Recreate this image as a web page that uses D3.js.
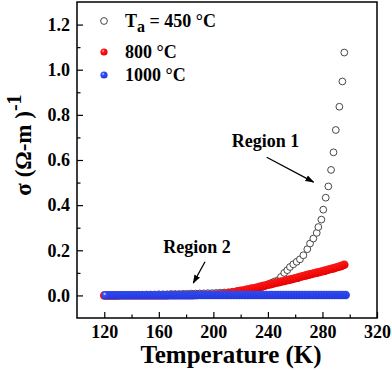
<!DOCTYPE html>
<html>
<head>
<meta charset="utf-8">
<script src="https://cdn.jsdelivr.net/npm/d3@7"></script>
<style>
  body { margin: 0; background: #fff; }
  svg { display: block; }
  text { font-family: "Liberation Serif", "Times New Roman", serif; font-weight: bold; fill: #000; }
  .tick text { font-size: 18px; }
</style>
</head>
<body>
<svg id="chart" width="392" height="370"></svg>
<script>
// annealed at 450 C (open circles)
var t450 = [120, 122, 124, 126, 128, 130, 133, 136, 139, 142, 145, 148, 151, 154, 157, 160, 163, 166, 169, 172,
    175, 178, 181, 184, 187, 190, 193, 196, 199, 202, 205, 208, 211, 214, 217, 220, 223, 226, 229, 232,
    235, 237, 239, 241, 243, 245, 247.6, 249.6, 252, 254.2, 256.2, 258.6, 261.1, 263.5, 266, 268.9, 270.9,
    273.3, 275.8, 277, 279.2, 280.6, 282.4, 284.3, 286.3, 288.1, 289.8, 292.4, 294.6, 296];
var s450 = [0.002, 0.002, 0.002, 0.002, 0.002, 0.002, 0.002, 0.003, 0.003, 0.003, 0.003, 0.003, 0.004, 0.004, 0.004, 0.005, 0.005, 0.005, 0.006, 0.006,
    0.006, 0.007, 0.007, 0.008, 0.008, 0.009, 0.009, 0.010, 0.010, 0.011, 0.012, 0.013, 0.014, 0.016, 0.018, 0.020, 0.022, 0.024, 0.027, 0.031,
    0.036, 0.040, 0.045, 0.051, 0.057, 0.062, 0.068, 0.082, 0.100, 0.112, 0.126, 0.138, 0.149, 0.160, 0.178, 0.205, 0.230,
    0.252, 0.277, 0.303, 0.336, 0.380, 0.433, 0.483, 0.556, 0.634, 0.733, 0.836, 0.948, 1.076];

// 800 C (red)
var t800 = [120, 122, 124, 126, 128, 130, 132, 134, 136, 138, 140, 142, 144, 146, 148, 150, 152, 154, 156, 158,
    160, 162, 164, 166, 168, 170, 172, 174, 176, 178, 180, 182, 184, 186, 188, 190, 192, 194, 196, 198,
    200, 202, 204, 206, 208, 210, 212, 214, 216, 218, 220, 222, 224, 226, 228, 230, 232, 234, 236, 238,
    240, 242, 244, 246, 248, 250, 252, 254, 256, 258, 260, 262, 264, 266, 268, 270, 272, 274, 276, 278,
    280, 282, 284, 286, 288, 290, 292, 294, 296];
var s800 = [0.000, 0.000, 0.000, 0.000, 0.000, 0.000, 0.001, 0.001, 0.001, 0.001, 0.001, 0.001, 0.001, 0.001, 0.001, 0.001, 0.001, 0.001, 0.001, 0.001,
    0.001, 0.001, 0.001, 0.001, 0.002, 0.002, 0.002, 0.002, 0.002, 0.002, 0.002, 0.002, 0.002, 0.002, 0.002, 0.003, 0.003, 0.003, 0.003, 0.003,
    0.003, 0.004, 0.004, 0.005, 0.007, 0.009, 0.011, 0.013, 0.015, 0.018, 0.020, 0.022, 0.025, 0.027, 0.030, 0.032, 0.035, 0.038, 0.041, 0.044,
    0.047, 0.050, 0.053, 0.056, 0.059, 0.062, 0.064, 0.067, 0.070, 0.073, 0.076, 0.079, 0.083, 0.086, 0.089, 0.092, 0.095, 0.098, 0.101, 0.104,
    0.107, 0.110, 0.114, 0.117, 0.120, 0.124, 0.127, 0.131, 0.136];

// 1000 C (blue)
var t1000 = [121, 123, 125, 127, 129, 131, 133, 135, 137, 139, 141, 143, 145, 147, 149, 151, 153, 155, 157, 159,
    161, 163, 165, 167, 169, 171, 173, 175, 177, 179, 181, 183, 185, 187, 189, 191, 193, 195, 197, 199,
    201, 203, 205, 207, 209, 211, 213, 215, 217, 219, 221, 223, 225, 227, 229, 231, 233, 235, 237, 239,
    241, 243, 245, 247, 249, 251, 253, 255, 257, 259, 261, 263, 265, 267, 269, 271, 273, 275, 277, 279,
    281, 283, 285, 287, 289, 291, 293, 295, 297];
var s1000 = [0.001, 0.001, 0.001, 0.001, 0.001, 0.001, 0.001, 0.001, 0.001, 0.001, 0.001, 0.001, 0.001, 0.001, 0.001, 0.001, 0.001, 0.001, 0.001, 0.001,
    0.001, 0.001, 0.001, 0.001, 0.001, 0.001, 0.001, 0.001, 0.001, 0.001, 0.001, 0.001, 0.001, 0.002, 0.002, 0.002, 0.002, 0.002, 0.002, 0.002,
    0.002, 0.002, 0.002, 0.002, 0.002, 0.002, 0.002, 0.002, 0.002, 0.002, 0.002, 0.002, 0.002, 0.002, 0.002, 0.002, 0.002, 0.002, 0.002, 0.002,
    0.002, 0.002, 0.002, 0.002, 0.002, 0.002, 0.002, 0.002, 0.002, 0.002, 0.002, 0.002, 0.002, 0.002, 0.002, 0.002, 0.002, 0.002, 0.002, 0.002,
    0.002, 0.002, 0.002, 0.002, 0.002, 0.002, 0.002, 0.002, 0.002];

var xMajor = [120, 160, 200, 240, 280, 320];
var xMinor = [140, 180, 220, 260, 300];
var yMajor = [0.0, 0.2, 0.4, 0.6, 0.8, 1.0, 1.2];
var yMinor = [0.1, 0.3, 0.5, 0.7, 0.9, 1.1];

var legendLabels = ["= 450 °C", "800 °C", "1000 °C"];

// annotation anchors, data units
var region1 = { text: "Region 1", tx: 213.5, ty: 0.659, from: [239.1, 0.612], to: [273.5, 0.502] };
var region2 = { text: "Region 2", tx: 163.3, ty: 0.186, from: [193.9, 0.149], to: [185.3, 0.055] };

var svg = d3.select("#chart");
var mLeft = 77, mRight = 377, mTop = 2, mBottom = 318;

var x = d3.scaleLinear().domain([100, 320]).range([mLeft, mRight]);
var y = d3.scaleLinear().domain([-0.1, 1.3]).range([mBottom, mTop]);

var defs = svg.append("defs");
function ball(id, hi, base, edge) {
    var g = defs.append("radialGradient").attr("id", id)
        .attr("cx", "38%").attr("cy", "35%").attr("r", "65%");
    g.append("stop").attr("offset", "0%").attr("stop-color", hi);
    g.append("stop").attr("offset", "28%").attr("stop-color", base);
    g.append("stop").attr("offset", "100%").attr("stop-color", edge);
}
ball("redBall", "#ffe6e6", "#ff1c1c", "#e80000");
ball("blueBall", "#eef2ff", "#3452f5", "#2238e0");

defs.append("marker").attr("id", "head")
    .attr("viewBox", "0 0 10 10").attr("refX", 9).attr("refY", 5)
    .attr("markerWidth", 9).attr("markerHeight", 9).attr("markerUnits", "userSpaceOnUse")
    .attr("orient", "auto")
    .append("path").attr("d", "M0,1.5L10,5L0,8.5Z").attr("fill", "#000");

function pairs(ts, vs) {
    return ts.map(function(t, i) { return [t, vs[i]]; });
}

var plot = svg.append("g");

// 450 C, ascending
plot.append("g").selectAll("circle")
    .data(pairs(t450, s450))
    .join("circle")
    .attr("cx", function(d) { return x(d[0]); })
    .attr("cy", function(d) { return y(d[1]); })
    .attr("r", 3.4)
    .attr("fill", "#fff")
    .attr("stroke", "#333")
    .attr("stroke-width", 0.9);

// 800 C and 1000 C drawn high T first so the low end sits on top
plot.append("g").selectAll("circle")
    .data(pairs(t800, s800).reverse())
    .join("circle")
    .attr("cx", function(d) { return x(d[0]); })
    .attr("cy", function(d) { return y(d[1]); })
    .attr("r", 4.3)
    .attr("fill", "url(#redBall)");

plot.append("g").selectAll("circle")
    .data(pairs(t1000, s1000).reverse())
    .join("circle")
    .attr("cx", function(d) { return x(d[0]); })
    .attr("cy", function(d) { return y(d[1]); })
    .attr("r", 4.3)
    .attr("fill", "url(#blueBall)");

// axes, ticks inward
svg.append("g").attr("transform", "translate(0," + mBottom + ")")
    .call(d3.axisBottom(x).tickValues(xMajor).tickSizeInner(-6).tickSizeOuter(0).tickPadding(7));
svg.append("g").attr("class", "minor").attr("transform", "translate(0," + mBottom + ")")
    .call(d3.axisBottom(x).tickValues(xMinor).tickSizeInner(-3.5).tickSizeOuter(0));
svg.append("g").attr("transform", "translate(" + mLeft + ",0)")
    .call(d3.axisLeft(y).tickValues(yMajor).tickSizeInner(-6).tickSizeOuter(0).tickPadding(7)
        .tickFormat(d3.format(".1f")));
svg.append("g").attr("class", "minor").attr("transform", "translate(" + mLeft + ",0)")
    .call(d3.axisLeft(y).tickValues(yMinor).tickSizeInner(-3.5).tickSizeOuter(0));

svg.selectAll(".minor text").remove();
svg.selectAll(".domain").remove();
// let the page css set the tick font instead of d3's sans-serif default
svg.selectAll("g[font-family]").attr("font-family", null).attr("font-size", null);
svg.selectAll(".tick line").attr("stroke", "#000").attr("stroke-width", 1.2);

svg.append("rect")
    .attr("x", mLeft).attr("y", mTop)
    .attr("width", mRight - mLeft).attr("height", mBottom - mTop)
    .attr("fill", "none").attr("stroke", "#000").attr("stroke-width", 1.5);

// axis titles
svg.append("text")
    .attr("x", (mLeft + mRight) / 2 + 4).attr("y", 363)
    .attr("text-anchor", "middle")
    .style("font-size", "25px")
    .text("Temperature (K)");

var yt = svg.append("text")
    .attr("transform", "translate(31,145) rotate(-90)")
    .attr("text-anchor", "middle")
    .style("font-size", "23px");
yt.append("tspan").text("σ (Ω-m )");
yt.append("tspan").attr("dy", -10).style("font-size", "20px").text("-1");

// legend
var lg = svg.append("g");
lg.append("circle").attr("cx", 104).attr("cy", 21).attr("r", 3.4)
    .attr("fill", "#fff").attr("stroke", "#333").attr("stroke-width", 0.9);
lg.append("circle").attr("cx", 104).attr("cy", 52).attr("r", 3.6).attr("fill", "url(#redBall)");
lg.append("circle").attr("cx", 104).attr("cy", 75).attr("r", 3.6).attr("fill", "url(#blueBall)");

var l1 = lg.append("text").attr("x", 125).attr("y", 27).style("font-size", "18px");
l1.append("tspan").text("T");
l1.append("tspan").attr("dy", 5).style("font-size", "16px").text("a");
l1.append("tspan").attr("dy", -5).text(" " + legendLabels[0]);
lg.append("text").attr("x", 125).attr("y", 58).style("font-size", "18px").text(legendLabels[1]);
lg.append("text").attr("x", 125).attr("y", 81).style("font-size", "18px").text(legendLabels[2]);

// region annotations
[region1, region2].forEach(function(r) {
    svg.append("text")
        .attr("x", x(r.tx)).attr("y", y(r.ty))
        .style("font-size", "18px")
        .text(r.text);
    svg.append("line")
        .attr("x1", x(r.from[0])).attr("y1", y(r.from[1]))
        .attr("x2", x(r.to[0])).attr("y2", y(r.to[1]))
        .attr("stroke", "#000").attr("stroke-width", 1.3)
        .attr("marker-end", "url(#head)");
});
</script>
</body>
</html>
